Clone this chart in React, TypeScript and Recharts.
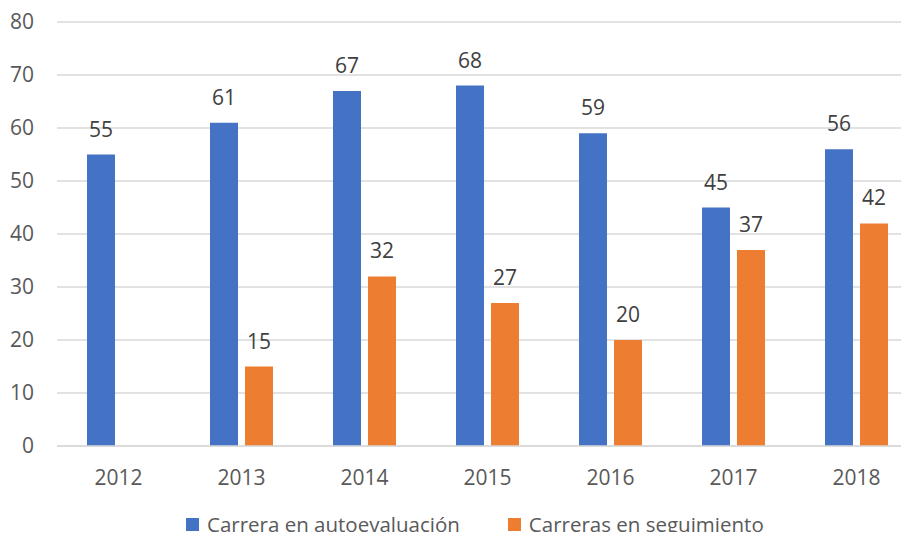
import { BarChart, Bar, XAxis, YAxis, CartesianGrid, Legend, LabelList } from "recharts";

const years = ["2012", "2013", "2014", "2015", "2016", "2017", "2018"];
const autoevaluacion = [55, 61, 67, 68, 59, 45, 56];
const seguimiento = [null, 15, 32, 27, 20, 37, 42];
const yTicks = [0, 10, 20, 30, 40, 50, 60, 70, 80];

const data = years.map((year, i) => ({
  year,
  auto: autoevaluacion[i],
  seg: seguimiento[i],
}));

const FONT = "'Open Sans', sans-serif";
const BLUE = "#4472C4";
const ORANGE = "#ED7D31";

function LegendContent() {
  const items = [
    { label: "Carrera en autoevaluación", color: BLUE },
    { label: "Carreras en seguimiento", color: ORANGE },
  ];
  return (
    <div style={{ display: "flex", alignItems: "center", paddingLeft: 186, fontFamily: FONT, fontSize: 20.5, color: "#595959", lineHeight: "26px" }}>
      {items.map((it, i) => (
        <div key={i} style={{ display: "flex", alignItems: "center", marginRight: 48 }}>
          <span style={{ width: 13, height: 13, background: it.color, display: "inline-block", marginRight: 8 }} />
          <span>{it.label}</span>
        </div>
      ))}
    </div>
  );
}

export default function App() {
  return (
    <div style={{ margin: -8, width: 909, height: 540, overflow: "hidden", background: "#fff", position: "relative" }}>
      <BarChart
        width={925}
        height={540}
        data={data}
        margin={{ top: 22, right: 7, left: 0, bottom: 0 }}
        barSize={28}
        barGap={7}
      >
        <CartesianGrid vertical={false} stroke="#d9d9d9" strokeWidth={1.3} />
        <XAxis
          dataKey="year"
          height={44}
          tickSize={0}
          tickMargin={24}
          axisLine={{ stroke: "#d9d9d9", strokeWidth: 1.3 }}
          tickLine={false}
          tick={{ fill: "#595959", fontSize: 21, fontFamily: FONT }}
        />
        <YAxis
          width={57}
          domain={[0, 80]}
          ticks={yTicks}
          axisLine={false}
          tickLine={false}
          tickSize={0}
          tickMargin={23}
          tick={{ fill: "#595959", fontSize: 21, fontFamily: FONT }}
        />
        <Legend
          content={<LegendContent />}
          height={50}
          verticalAlign="bottom"
          wrapperStyle={{ top: 511, bottom: "auto", left: 0, width: 909 }}
        />
        <Bar dataKey="auto" name="Carrera en autoevaluación" fill={BLUE} isAnimationActive={false}>
          <LabelList dataKey="auto" position="top" offset={18} fill="#404040" fontSize={21} fontFamily={FONT} />
        </Bar>
        <Bar dataKey="seg" name="Carreras en seguimiento" fill={ORANGE} isAnimationActive={false}>
          <LabelList dataKey="seg" position="top" offset={18} fill="#404040" fontSize={21} fontFamily={FONT} />
        </Bar>
      </BarChart>
    </div>
  );
}
